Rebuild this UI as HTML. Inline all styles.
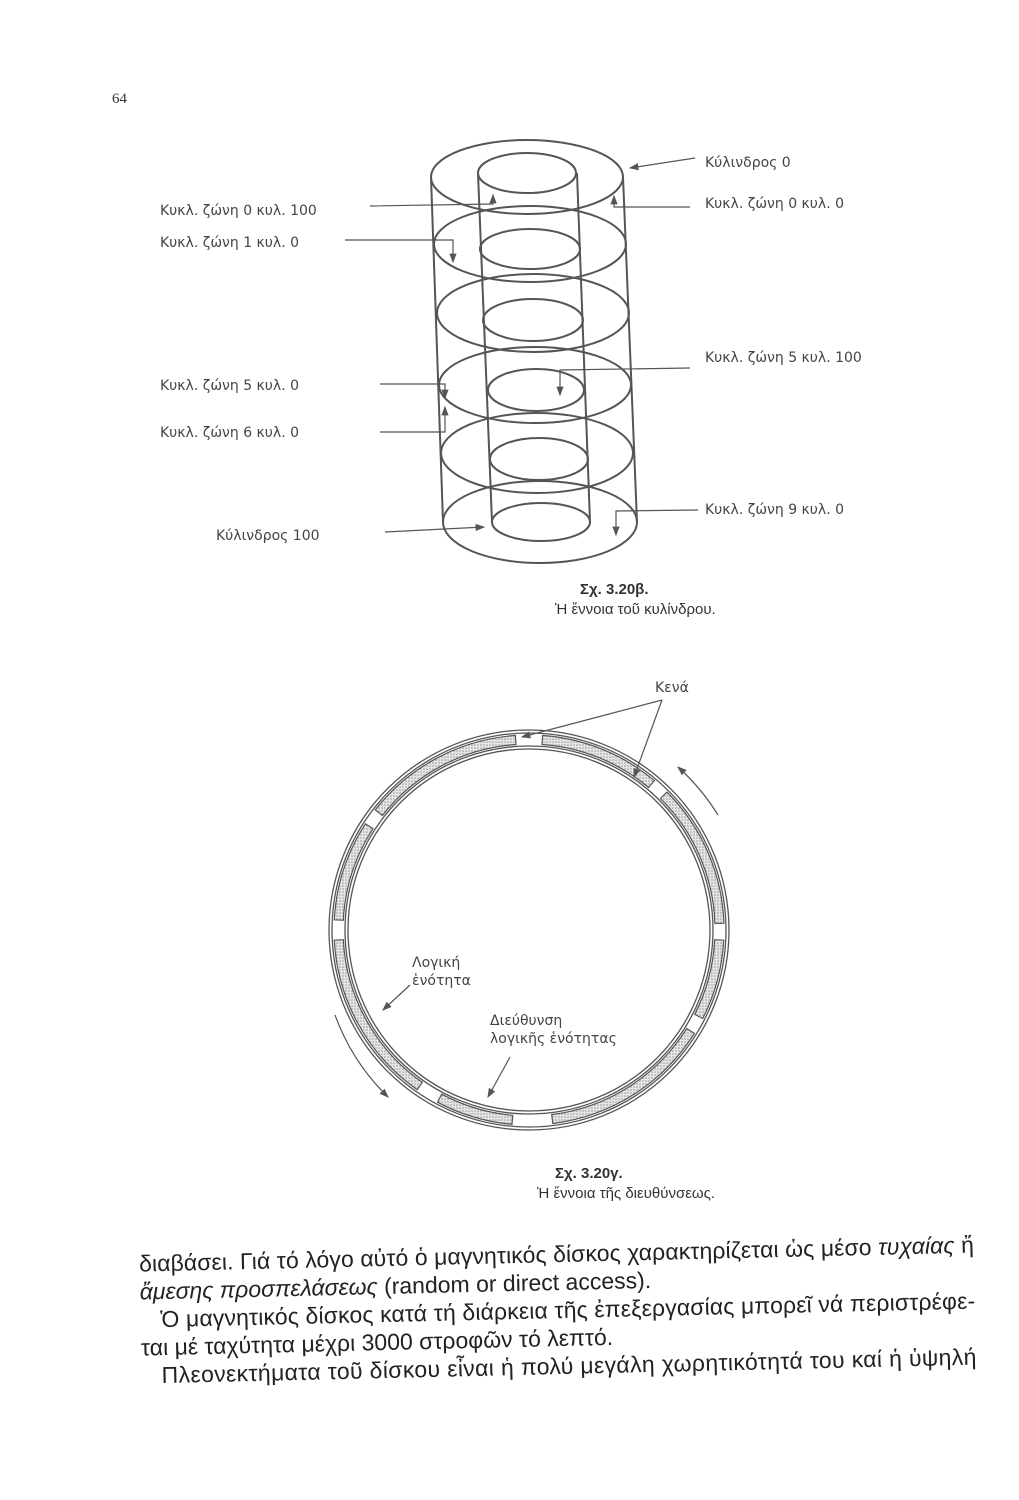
<!DOCTYPE html>
<html><head><meta charset="utf-8"><style>
body{margin:0;background:#fff;width:1019px;height:1500px;overflow:hidden}
svg{position:absolute;left:0;top:0}
.l{font-family:"DejaVu Sans","Liberation Sans",sans-serif;font-size:14px;fill:#444}
.c{font-family:"Liberation Sans",sans-serif;font-size:15px;fill:#333}
.t{font-family:"Liberation Sans","DejaVu Sans",sans-serif;font-size:23px;fill:#222}
</style></head><body>
<svg width="1019" height="1500" viewBox="0 0 1019 1500">
<defs>
<pattern id="h" width="3" height="3" patternUnits="userSpaceOnUse"><rect width="3" height="3" fill="#e6e6e6"/><circle cx="1" cy="1" r="0.8" fill="#999"/></pattern>
<marker id="a" markerWidth="8" markerHeight="8" refX="7" refY="4" orient="auto"><path d="M0,1 L8,4 L0,7z" fill="#555"/></marker>
</defs>
<text x="112" y="103" font-family="Liberation Serif" font-size="15" fill="#333">64</text>
<g fill="none" stroke="#555" stroke-width="2">
<line x1="431" y1="177" x2="443" y2="522"/><line x1="623" y1="177" x2="637" y2="522"/>
<ellipse cx="527" cy="177" rx="96" ry="37"/>
<ellipse cx="530" cy="244" rx="96" ry="38"/>
<ellipse cx="533" cy="313" rx="96" ry="39"/>
<ellipse cx="535" cy="385" rx="96" ry="38"/>
<ellipse cx="537" cy="453" rx="96" ry="40"/>
<ellipse cx="540" cy="522" rx="97" ry="41"/>
<line x1="478" y1="173" x2="492" y2="522"/><line x1="577" y1="173" x2="590" y2="522"/>
<ellipse cx="527" cy="173" rx="49" ry="20"/>
<ellipse cx="530" cy="249" rx="50" ry="20"/>
<ellipse cx="533" cy="320" rx="50" ry="21"/>
<ellipse cx="536" cy="390" rx="48" ry="21"/>
<ellipse cx="539" cy="459" rx="49" ry="21"/>
<ellipse cx="541" cy="522" rx="49" ry="19"/>
</g>
<g fill="none" stroke="#555" stroke-width="1.2">
<polyline points="370,206 493,204 493,195" marker-end="url(#a)"/>
<polyline points="345,240 453,240 453,262" marker-end="url(#a)"/>
<polyline points="695,158 630,168" marker-end="url(#a)"/>
<polyline points="690,207 614,207 614,196" marker-end="url(#a)"/>
<polyline points="690,368 560,370 560,395" marker-end="url(#a)"/>
<polyline points="380,384 445,384 445,398" marker-end="url(#a)"/>
<polyline points="380,432 445,432 445,407" marker-end="url(#a)"/>
<polyline points="385,532 484,527" marker-end="url(#a)"/>
<polyline points="698,510 616,511 616,535" marker-end="url(#a)"/>
</g>
<text class="l" x="160" y="215">Κυκλ. ζώνη  0  κυλ.  100</text>
<text class="l" x="160" y="247">Κυκλ. ζώνη  1  κυλ.   0</text>
<text class="l" x="160" y="390">Κυκλ. ζώνη  5  κυλ.    0</text>
<text class="l" x="160" y="437">Κυκλ. ζώνη  6  κυλ.    0</text>
<text class="l" x="216" y="540">Κύλινδρος   100</text>
<text class="l" x="705" y="167">Κύλινδρος   0</text>
<text class="l" x="705" y="208">Κυκλ. ζώνη  0  κυλ.  0</text>
<text class="l" x="705" y="362">Κυκλ. ζώνη   5  κυλ. 100</text>
<text class="l" x="705" y="514">Κυκλ. ζώνη   9  κυλ.  0</text>
<text class="c" x="580" y="594" font-weight="bold">Σχ. 3.20β.</text>
<text class="c" x="555" y="614">Ἡ ἔννοια τοῦ κυλίνδρου.</text>
<g fill="none" stroke="#555" stroke-width="1.3">
<circle cx="529" cy="930" r="200"/><circle cx="529" cy="930" r="197"/>
<circle cx="529" cy="930" r="184"/><circle cx="529" cy="930" r="181"/>
</g>
<g id="recs" fill="url(#h)" stroke="#555" stroke-width="1.2"></g>
<g fill="none" stroke="#555" stroke-width="1.2">
<line x1="662" y1="700" x2="522" y2="737" marker-end="url(#a)"/>
<line x1="662" y1="700" x2="634" y2="777" marker-end="url(#a)"/>
<path d="M718,815 A220 220 0 0 0 678,767" marker-end="url(#a)"/>
<path d="M335,1015 A220 220 0 0 0 388,1097" marker-end="url(#a)"/>
<line x1="410" y1="985" x2="383" y2="1010" marker-end="url(#a)"/>
<line x1="510" y1="1057" x2="488" y2="1097" marker-end="url(#a)"/>
</g>
<text class="l" x="412" y="967">Λογική</text>
<text class="l" x="412" y="985">ἑνότητα</text>
<text class="l" x="490" y="1025">Διεύθυνση</text>
<text class="l" x="490" y="1043">λογικῆς ἑνότητας</text>
<text class="l" x="655" y="692">Κενά</text>
<text class="c" x="555" y="1178" font-weight="bold">Σχ. 3.20γ.</text>
<text class="c" x="537" y="1198">Ἡ ἔννοια τῆς διευθύνσεως.</text>
<g transform="rotate(-1.3 560 1300)">
<text class="t" x="140" y="1262" textLength="835">διαβάσει. Γιά τό λόγο αὐτό ὁ μαγνητικός δίσκος χαρακτηρίζεται ὡς μέσο <tspan font-style="italic">τυχαίας</tspan> ἤ</text>
<text class="t" x="140" y="1290"><tspan font-style="italic">ἄμεσης προσπελάσεως</tspan> (random or direct access).</text>
<text class="t" x="160" y="1318" textLength="815">Ὁ μαγνητικός δίσκος κατά τή διάρκεια τῆς ἐπεξεργασίας μπορεῖ νά περιστρέφε-</text>
<text class="t" x="140" y="1346">ται μέ ταχύτητα μέχρι 3000 στροφῶν τό λεπτό.</text>
<text class="t" x="160" y="1374" textLength="815">Πλεονεκτήματα τοῦ δίσκου εἶναι ἡ πολύ μεγάλη χωρητικότητά του καί ἡ ὑψηλή</text>
</g>
</svg>
<script>
var g=document.getElementById('recs'),cx=529,cy=930,r1=186,r2=195;
var R=[[-86,-50],[-45,-2],[3,27],[32,83],[95,118],[125,177],[183,213],[218,266]];
function p(r,a){a=a*Math.PI/180;return (cx+r*Math.cos(a)).toFixed(1)+','+(cy+r*Math.sin(a)).toFixed(1);}
R.forEach(function(s){var d='M'+p(r2,s[0])+' A'+r2+' '+r2+' 0 0 1 '+p(r2,s[1])+' L'+p(r1,s[1])+' A'+r1+' '+r1+' 0 0 0 '+p(r1,s[0])+'Z';
var e=document.createElementNS('http://www.w3.org/2000/svg','path');e.setAttribute('d',d);g.appendChild(e);});
</script>
</body></html>
